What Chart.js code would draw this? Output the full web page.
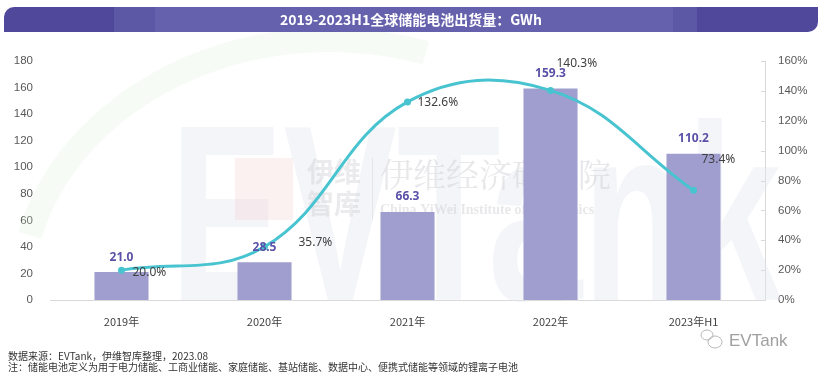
<!DOCTYPE html>
<html>
<head>
<meta charset="utf-8">
<script src="https://cdn.jsdelivr.net/npm/chart.js@4.4.0/dist/chart.umd.min.js"></script>
<style>
  html, body { margin: 0; padding: 0; background: #ffffff; }
  #wrap { position: relative; width: 824px; height: 376px; overflow: hidden; }
  #title {
    position: absolute; left: 4px; top: 7px; width: 814px; height: 25px;
    border-radius: 10px 0 10px 0;
    background: linear-gradient(to right,
      #50499b 0px, #50499b 110px, #5c58a5 110px, #5c58a5 151px,
      #6561ad 151px, #6561ad 669px, #5c58a5 669px, #5c58a5 693px,
      #50499b 693px, #50499b 814px);
    color: #ffffff; font: bold 14px "Noto Sans CJK SC", "Noto Sans", sans-serif;
    line-height: 25px; text-align: center; z-index: 2;
  }
  canvas { position: absolute; left: 0; top: 0; }
  .foot { position: absolute; left: 8px; font: 10px "Noto Sans CJK SC", "Liberation Sans", sans-serif; color: #333; white-space: nowrap; z-index: 2; }
</style>
</head>
<body>
<div id="wrap">
  <canvas id="c" width="824" height="376"></canvas>
  <div id="title">2019-2023H1全球储能电池出货量：GWh</div>
  <div class="foot" style="top:348px;">数据来源：EVTank，伊维智库整理，2023.08</div>
  <div class="foot" style="top:359px;">注：储能电池定义为用于电力储能、工商业储能、家庭储能、基站储能、数据中心、便携式储能等领域的锂离子电池</div>
</div>
<script>
const categories = ['2019年', '2020年', '2021年', '2022年', '2023年H1'];
const shipments = [21.0, 28.5, 66.3, 159.3, 110.2];   // GWh
const growthRate = [20.0, 35.7, 132.6, 140.3, 73.4];  // %
const leftTicks = [0, 20, 40, 60, 80, 100, 120, 140, 160, 180];
const rightTicks = [0, 20, 40, 60, 80, 100, 120, 140, 160];

const BAR_COLOR = '#a09ecf';
const LINE_COLOR = '#48c3d0';

const watermark = {
  id: 'watermark',
  beforeDatasetsDraw(chart) {
    const ctx = chart.ctx;
    ctx.save();
    // faint green swoosh
    ctx.strokeStyle = 'rgba(215,235,215,0.22)';
    ctx.lineWidth = 24;
    ctx.beginPath();
    ctx.ellipse(330, 300, 310, 260, 0, Math.PI * 1.08, Math.PI * 1.6);
    ctx.stroke();
    // big faint letters (condensed)
    ctx.save();
    ctx.fillStyle = 'rgba(228,231,240,0.4)';
    ctx.font = 'bold 250px "Liberation Sans", sans-serif';
    ctx.textBaseline = 'alphabetic';
    ctx.textAlign = 'left';
    ctx.translate(170, 300);
    ctx.scale(0.68, 1);
    ctx.fillText('EVTank', 0, 0);
    ctx.restore();
    // 伊维智库 logo
    ctx.fillStyle = 'rgba(240,190,190,0.22)';
    ctx.fillRect(235, 158, 58, 62);
    ctx.fillStyle = 'rgba(205,205,210,0.4)';
    ctx.font = 'bold 27px "Noto Sans CJK SC"';
    ctx.textBaseline = 'middle';
    ctx.fillText('伊维', 307, 172);
    ctx.fillText('智库', 307, 204);
    ctx.fillRect(372, 158, 1, 62);
    // 伊维经济研究院
    ctx.fillStyle = 'rgba(205,205,210,0.45)';
    ctx.font = '33px "Noto Serif CJK SC", "Noto Sans CJK SC"';
    ctx.fillText('伊维经济研究院', 380, 174);
    ctx.font = 'bold 14px "Liberation Serif", serif';
    ctx.fillText('China YiWei Institute of Economics', 380, 210);
    ctx.restore();
  }
};

const extras = {
  id: 'extras',
  afterDatasetsDraw(chart) {
    const ctx = chart.ctx;
    const y1 = chart.scales.y1;
    const rx = chart.chartArea.right;
    ctx.save();
    // inward tick marks on right axis
    ctx.strokeStyle = '#d9d9d9';
    ctx.lineWidth = 1;
    y1.ticks.forEach(t => {
      const py = Math.round(y1.getPixelForValue(t.value)) + 0.5;
      ctx.beginPath(); ctx.moveTo(rx - 4, py); ctx.lineTo(rx, py); ctx.stroke();
    });
    // growth labels
    const lineMeta = chart.getDatasetMeta(1);
    const offs = [[11, 2], [34, -4], [10, 1], [6, -27], [8, -31]];
    ctx.fillStyle = '#404040';
    ctx.font = '12px "Noto Sans", sans-serif';
    ctx.textAlign = 'left';
    ctx.textBaseline = 'middle';
    lineMeta.data.forEach((p, i) => {
      ctx.fillText(growthRate[i].toFixed(1) + '%', p.x + offs[i][0], p.y + offs[i][1]);
    });
    // bar labels
    const barMeta = chart.getDatasetMeta(0);
    ctx.fillStyle = '#5a50a8';
    ctx.font = 'bold 12px "Noto Sans", sans-serif';
    ctx.textAlign = 'center';
    barMeta.data.forEach((b, i) => {
      ctx.fillText(shipments[i].toFixed(1), b.x, b.y - 15);
    });
    // EVTank logo
    ctx.strokeStyle = '#b8b8b8';
    ctx.lineWidth = 1;
    ctx.beginPath(); ctx.ellipse(707, 335, 6, 5, 0, 0, Math.PI * 2); ctx.stroke();
    ctx.beginPath(); ctx.ellipse(715, 342, 7, 6, 0, 0, Math.PI * 2); ctx.stroke();
    ctx.fillStyle = '#a0a0a0';
    ctx.font = '17px "Liberation Sans", sans-serif';
    ctx.textAlign = 'left';
    ctx.fillText('EVTank', 729, 341);
    ctx.restore();
  }
};

new Chart(document.getElementById('c'), {
  data: {
    labels: categories,
    datasets: [
      {
        type: 'bar', data: shipments, yAxisID: 'y', order: 2,
        backgroundColor: BAR_COLOR, borderWidth: 0,
        categoryPercentage: 1.0, barPercentage: 0.378
      },
      {
        type: 'line', data: growthRate, yAxisID: 'y1', order: 1,
        borderColor: LINE_COLOR, backgroundColor: LINE_COLOR,
        borderWidth: 3, tension: 0.4, pointRadius: 3.5, pointBorderWidth: 0,
        pointBackgroundColor: LINE_COLOR, fill: false
      }
    ]
  },
  options: {
    responsive: false, animation: false, devicePixelRatio: 1,
    layout: { padding: { left: 0, right: 0, top: 61, bottom: 0 } },
    plugins: { legend: { display: false }, tooltip: { enabled: false }, title: { display: false } },
    scales: {
      x: {
        grid: { display: false, drawTicks: false },
        border: { display: true, color: '#d9d9d9', width: 1 },
        ticks: { color: '#404040', font: { size: 11, family: '"Noto Sans CJK SC", "Liberation Sans"' }, padding: 15, maxRotation: 0 },
        afterFit(s) { s.height = 76; }
      },
      y: {
        position: 'left', min: 0, max: 180,
        afterBuildTicks(s) { s.ticks = leftTicks.map(v => ({ value: v })); },
        grid: { display: false, drawTicks: false },
        border: { display: false },
        ticks: { color: '#595959', font: { size: 11.5, family: '"Liberation Sans", sans-serif' }, padding: 17 },
        afterFit(s) { s.width = 50; }
      },
      y1: {
        position: 'right', min: 0, max: 160,
        afterBuildTicks(s) { s.ticks = rightTicks.map(v => ({ value: v })); },
        grid: { display: false, drawTicks: false, drawOnChartArea: false },
        border: { display: true, color: '#d9d9d9', width: 1 },
        ticks: { color: '#595959', font: { size: 11.5, family: '"Liberation Sans", sans-serif' }, padding: 13, callback: v => v + '%' },
        afterFit(s) { s.width = 59; }
      }
    }
  },
  plugins: [watermark, extras]
});
</script>
</body>
</html>
